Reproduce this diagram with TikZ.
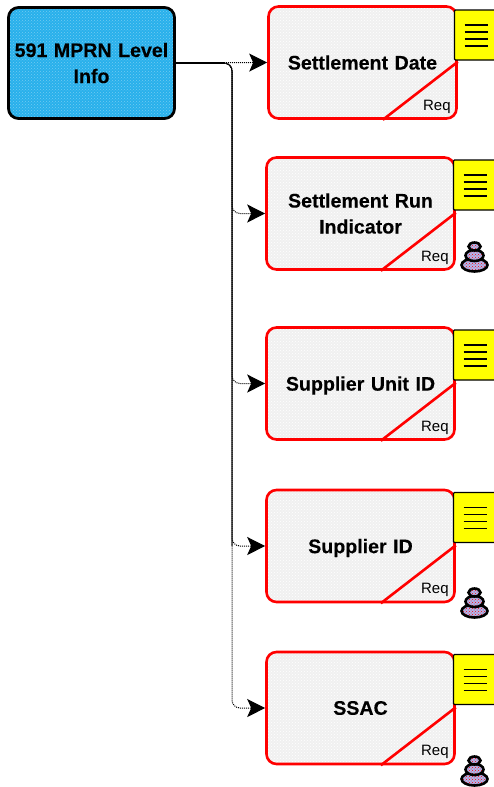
\documentclass[tikz,border=0pt]{standalone}
\usepackage{fontspec}
\setmainfont{Liberation Sans}[BoldFeatures={FakeBold=0.25}]
\usetikzlibrary{arrows.meta,patterns,shapes.geometric}
\definecolor{rootblue}{RGB}{40,176,235}
\definecolor{stackblue}{RGB}{175,185,240}
\definecolor{noteyellow}{RGB}{255,255,0}
\newcommand{\nodepth}[1]{\raisebox{0pt}[\height][0pt]{#1}}
\tikzset{
  root-box/.style = {draw, line width=2.8pt, rounded corners=10pt, minimum width=166pt, minimum height=111pt,
    text width=163pt, inner sep=0pt, align=center, font=\bfseries\fontsize{19.6pt}{26pt}\selectfont,
    preaction={fill=rootblue}, pattern=crosshatch dots, pattern color=white!35!rootblue},
  field-box/.style = {draw=red, line width=2.6pt, rounded corners=10pt, minimum width=188pt, minimum height=112pt,
    text width=170pt, align=center, font=\bfseries\fontsize{19.6pt}{26pt}\selectfont,
    preaction={fill=black!6}, pattern=crosshatch dots, pattern color=white},
  note-box/.style = {draw, fill=noteyellow, line width=1.3pt, rounded corners=1pt, minimum width=42pt, minimum height=50pt,
    path picture={\foreach \k in {-11,-4,3,10}
      \draw[line width=1.5pt] ([xshift=-11pt,yshift=\k pt]path picture bounding box.center) -- ++(23pt,0);}},
  stack-part/.style = {draw, ellipse, inner sep=0pt, line width=2.6pt, preaction={fill=stackblue},
    pattern=crosshatch dots, pattern color=red},
  conn/.style = {densely dotted, line width=1pt, rounded corners=8pt, -{Stealth[length=18pt,width=18pt,inset=4pt]}}
}
\begin{document}
\begin{tikzpicture}[x=1pt,y=-1pt,node distance=100pt]
  \useasboundingbox (0,0) rectangle (494,787);

  \node[root-box] (root) at (91.5,63) {591 MPRN Level\\Info};

  \node[field-box] (date) at (362.5,62.5) {Settlement Date};
  \node[field-box,below of=date,node distance=151pt,xshift=-2pt] (run) {Settlement Run\\Indicator};
  \node[field-box,below of=run,node distance=170pt] (unit) {\nodepth{Supplier Unit ID}};
  \node[field-box,below of=unit,node distance=162.5pt] (supplier) {\nodepth{Supplier ID}};
  \node[field-box,below of=supplier,node distance=162pt] (ssac) {SSAC};

  \coordinate (bus) at (232,0);

  % diagonal corner of every field
  \foreach \f in {date,run,unit,supplier,ssac} {
    \draw[red,line width=2.6pt] ([xshift=-75pt]\f.south east) -- ([yshift=58pt]\f.south east);
    \node[font=\fontsize{15pt}{16pt}\selectfont,anchor=south east,inner sep=0pt] (req-\f) at ([xshift=-7pt,yshift=6pt]\f.south east) {Req};
  }

  \node[note-box,right of=date,node distance=113pt,yshift=27.5pt] (date-note) {};
  \node[note-box,right of=run,node distance=114pt,yshift=28.5pt] (run-note) {};
  \node[note-box,right of=unit,node distance=114pt,yshift=28.5pt] (unit-note) {};
  \node[note-box,right of=supplier,node distance=114pt,yshift=28.5pt] (supplier-note) {};
  \node[note-box,right of=ssac,node distance=114pt,yshift=28.5pt] (ssac-note) {};

  \draw[line width=1.1pt,black!75,rounded corners=8pt] (root.east) -- (root.east -| bus) -- (bus |- supplier.west);
  \draw[line width=1.4pt] (root.east) -- ([xshift=-8pt]root.east -| bus);
  \draw[conn] (root.east) -- (date.west);
  \foreach \f in {run,unit,supplier,ssac}
    \draw[conn] (root.east) -- (root.east -| bus) |- (\f.west);

  \foreach \n/\y in {run/265,supplier/611,ssac/779} {
    \node[stack-part,minimum width=26pt,minimum height=13pt] (\n-s1) at (474.5,\y) {};
    \node[stack-part,minimum width=18pt,minimum height=11pt,above of=\n-s1,node distance=9.5pt] (\n-s2) {};
    \node[stack-part,minimum width=12pt,minimum height=8pt,above of=\n-s2,node distance=9pt] (\n-s3) {};
  }
\end{tikzpicture}
\end{document}
